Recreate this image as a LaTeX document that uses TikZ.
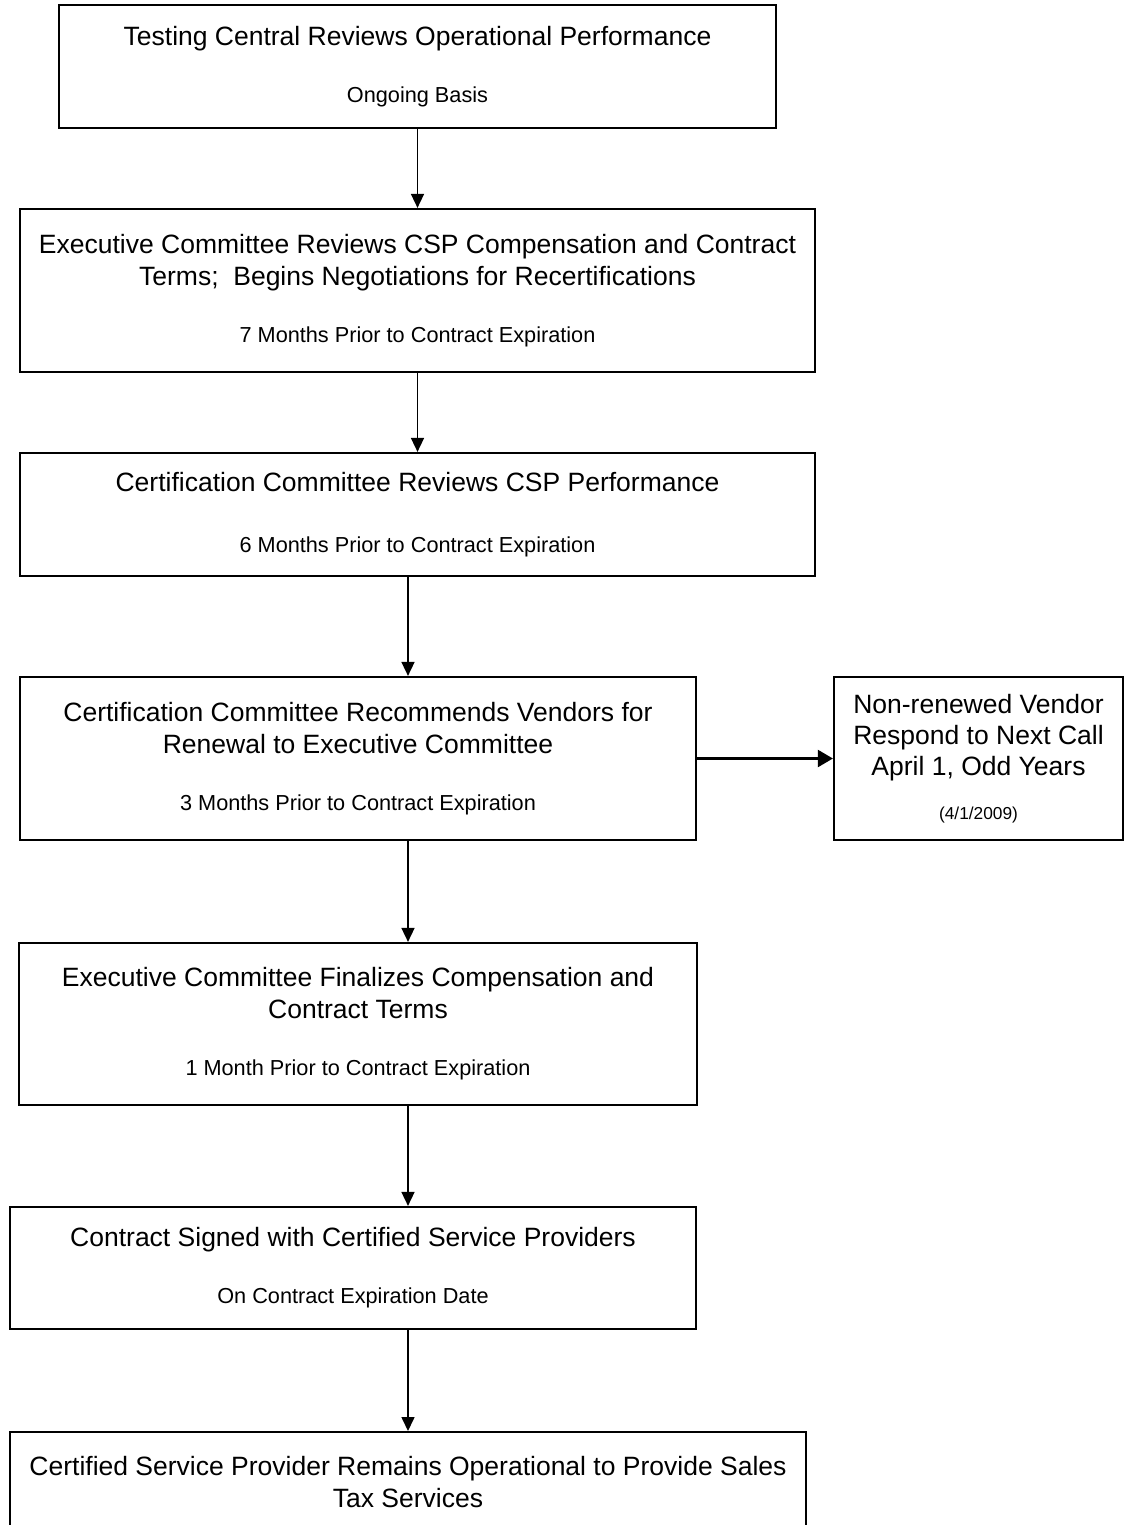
\documentclass[tikz,border=0pt]{standalone}
\usepackage{fontspec}
\setmainfont{Liberation Sans}
\usetikzlibrary{arrows.meta}

\newcommand{\subfont}{\fontsize{21.7}{26}\selectfont}
\newcommand{\datefont}{\fontsize{17.3}{21}\selectfont}

\begin{document}
\begin{tikzpicture}[x=1pt,y=-1pt,
	box/.style={draw,line width=2.2pt,rectangle,align=center,inner sep=0pt,font=\fontsize{26.5}{32}\selectfont},
	arr/.style={-{Triangle[length=14pt,width=13pt]},line width=1.6pt},
	bigarr/.style={-{Triangle[length=15pt,width=17pt]},line width=2.2pt}]
	\clip (0,0) rectangle (1126,1525);
	\coordinate (ax) at (408,0);

	\node[box,minimum width=717,minimum height=123] (tc) at (417.5,66.5) {Testing Central Reviews Operational Performance\\[25pt]{\subfont Ongoing Basis}};
	\node[box,minimum width=795,minimum height=163] (exec) at (417.5,290.5) {Executive Committee Reviews CSP Compensation and Contract\\Terms;~ Begins Negotiations for Recertifications\\[25pt]{\subfont 7 Months Prior to Contract Expiration}};
	\node[box,minimum width=795,minimum height=123] (cert) at (417.5,514.5) {Certification Committee Reviews CSP Performance\\[29pt]{\subfont 6 Months Prior to Contract Expiration}};
	\node[box,minimum width=676,minimum height=163] (recom) at (358,758.5) {Certification Committee Recommends Vendors for\\Renewal to Executive Committee\\[25pt]{\subfont 3 Months Prior to Contract Expiration}};
	\node[box,minimum width=289,minimum height=163] (vend) at (978.5,758.5) {Non-renewed Vendor\\[-1pt]Respond to Next Call\\[-1pt]April 1, Odd Years\\[12pt]{\datefont (4/1/2009)}};
	\node[box,minimum width=678,minimum height=162] (final) at (358,1024) {Executive Committee Finalizes Compensation and\\Contract Terms\\[25pt]{\subfont 1 Month Prior to Contract Expiration}};
	\node[box,minimum width=686,minimum height=122] (sign) at (353,1268) {Contract Signed with Certified Service Providers\\[25pt]{\subfont On Contract Expiration Date}};
	\node[box,minimum width=796,anchor=north,inner ysep=24pt,text depth=100pt] (prov) at (408,1431) {Certified Service Provider Remains Operational to Provide Sales\\Tax Services};

	\draw[arr] (tc) -- (exec);
	\draw[arr] (exec) -- (cert);
	\foreach \a/\b in {cert/recom,recom/final,final/sign,sign/prov}
		\draw[arr] (\a.south -| ax) -- (\b.north -| ax);
	\draw[bigarr] (recom) -- (vend);

\end{tikzpicture}
\end{document}
